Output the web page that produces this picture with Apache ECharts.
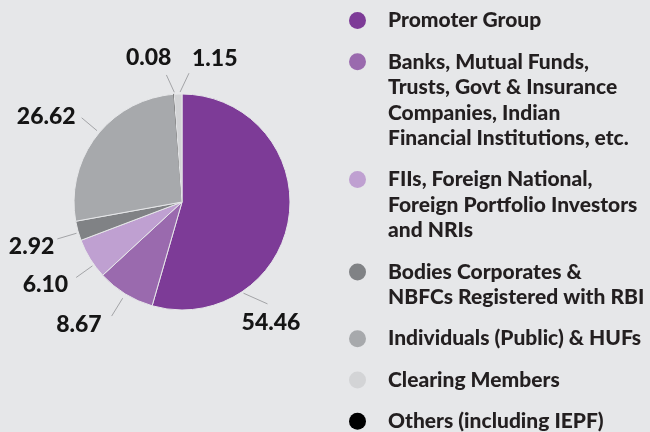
<!DOCTYPE html>
<html>
<head>
<meta charset="utf-8">
<script src="https://cdn.jsdelivr.net/npm/echarts@6/dist/echarts.min.js"></script>
<style>
  html, body { margin: 0; padding: 0; background: #e6e7e9; }
  #chart { width: 650px; height: 432px; }
</style>
</head>
<body>
<div id="chart"></div>
<script>
// Shareholding categories (legend order) and their percentage share
const categories = [
  'Promoter Group',
  'Banks, Mutual Funds,\nTrusts, Govt & Insurance\nCompanies, Indian\nFinancial Institutions, etc.',
  'FIIs, Foreign National,\nForeign Portfolio Investors\nand NRIs',
  'Bodies Corporates &\nNBFCs Registered with RBI',
  'Individuals (Public) & HUFs',
  'Clearing Members',
  'Others (including IEPF)'
];
const shares = [54.46, 8.67, 6.10, 2.92, 26.62, 1.15, 0.08];
const colors = ['#7d3b97', '#9a6aae', '#bfa0d1', '#808285', '#a7a9ac', '#d3d4d6', '#000000'];

// Order of the slices going clockwise from 12 o'clock
const pieOrder = [0, 1, 2, 3, 4, 6, 5];

const FONT = 'Lato';
const CX = 182, CY = 202, R = 108;

function polar(deg, r) {
  const a = deg * Math.PI / 180;
  return [CX + r * Math.sin(a), CY - r * Math.cos(a)];
}

// Mid angle of every slice (degrees clockwise from 12 o'clock)
const total = shares.reduce((s, v) => s + v, 0);
const midAngles = [];
let acc = 0;
pieOrder.forEach(i => {
  midAngles.push((acc + shares[i] / 2) / total * 360);
  acc += shares[i];
});

// Leader line / label placement per category
const labelTweaks = {
  0: { a0: 146, a1: 140, r0: 110, r1: 133, dx: 3.5, dy: 19, align: 'center' },
  1: { r0: 113, r1: 134, dx: -10, dy: 9, align: 'right' },
  2: { a0: 234.5, a1: 234.5, r0: 110, r1: 130, dx: -8, dy: 7, align: 'right' },
  3: { a0: 253.5, a1: 253.5, r0: 110, r1: 130, dx: -3, dy: 7.5, align: 'right' },
  4: { a0: 310, a1: 310, r0: 111, r1: 131, dx: -6, dy: -1, align: 'right' },
  5: { a0: 359, a1: 3.1, r0: 110, r1: 129, dx: 3, dy: -15, align: 'left' },
  6: { a0: 356, a1: 353, r0: 110, r1: 128, dx: 5, dy: -17, align: 'right' }
};

const rich = {
  g: { width: 22 },
  g2: { width: 39 },
  t: { fontFamily: FONT, fontSize: 21, fontWeight: 900, lineHeight: 25.5, color: '#231f20' }
};
colors.forEach((c, i) => {
  rich['d' + i] = { width: 17, height: 17, borderRadius: 8.5, backgroundColor: c };
});

const chart = echarts.init(document.getElementById('chart'), null, { renderer: 'canvas' });

chart.setOption({
  backgroundColor: '#e6e7e9',
  animation: false,
  legend: {
    orient: 'vertical',
    left: 343,
    top: 10,
    padding: 0,
    itemGap: 20.3,
    itemWidth: 0,
    itemHeight: 0,
    itemStyle: { opacity: 0 },
    selectedMode: false,
    data: categories,
    formatter: name => {
      const i = categories.indexOf(name);
      const lines = name.split('\n');
      let s = '{d' + i + '|}{g|}{t|' + lines[0] + '}';
      for (let k = 1; k < lines.length; k++) s += '\n{g2|}{t|' + lines[k] + '}';
      return s;
    },
    textStyle: { rich: rich }
  },
  series: [{
    type: 'pie',
    center: [CX, CY],
    radius: [0, R],
    startAngle: 90,
    clockwise: true,
    avoidLabelOverlap: false,
    itemStyle: { borderColor: '#e6e7e9', borderWidth: 1 },
    label: {
      show: true,
      position: 'outside',
      fontFamily: FONT,
      fontSize: 23,
      fontWeight: 900,
      color: '#151515',
      formatter: p => p.value.toFixed(2)
    },
    labelLine: {
      show: true,
      length: 20,
      length2: 0,
      lineStyle: { color: '#a3a4a7', width: 1 }
    },
    labelLayout: params => {
      const i = pieOrder[params.dataIndex];
      const mid = midAngles[params.dataIndex];
      const t = labelTweaks[i];
      const a0 = t.a0 != null ? t.a0 : mid;
      const a1 = t.a1 != null ? t.a1 : mid;
      const p0 = polar(a0, t.r0);
      const p1 = polar(a1, t.r1);
      return {
        x: p1[0] + t.dx,
        y: p1[1] + t.dy,
        align: t.align,
        verticalAlign: 'middle',
        labelLinePoints: [p0, p1]
      };
    },
    data: pieOrder.map(i => ({
      name: categories[i],
      value: shares[i],
      itemStyle: i === 6 ? { color: colors[i], borderColor: '#2a2a2a', borderWidth: 0.6 } : { color: colors[i] }
    }))
  }]
});
</script>
</body>
</html>
